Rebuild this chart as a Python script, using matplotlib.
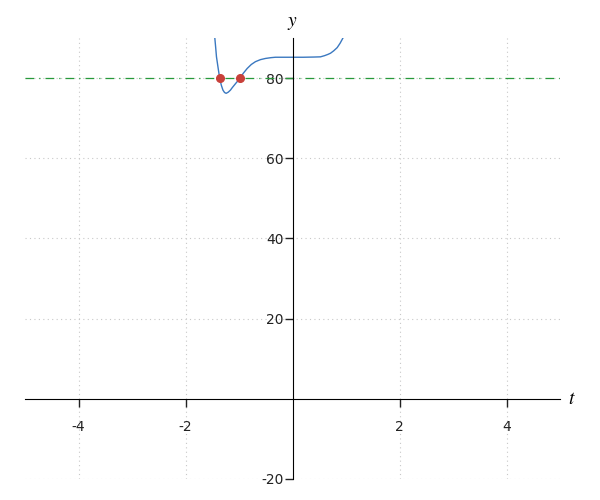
import matplotlib
matplotlib.use("Agg")
import matplotlib.pyplot as plt

plt.rcParams['axes.unicode_minus'] = False
plt.rcParams['mathtext.fontset'] = 'stix'

# curve
t_vals = [-1.452, -1.435, -1.421, -1.39, -1.359, -1.33, -1.30, -1.27, -1.24,
          -1.20, -1.16, -1.127, -1.06, -0.991, -0.92, -0.847, -0.77, -0.692,
          -0.6, -0.505, -0.4, -0.318, -0.2, 0.0, 0.2, 0.4, 0.523, 0.6, 0.66,
          0.71, 0.77, 0.835, 0.89, 0.947]
y_vals = [90.0, 87.5, 85.3, 82.5, 79.8, 78.2, 77.0, 76.4, 76.2,
          76.5, 77.0, 77.6, 78.7, 79.8, 81.2, 82.4, 83.4, 84.1,
          84.6, 84.9, 85.1, 85.2, 85.2, 85.2, 85.2, 85.25, 85.3, 85.6, 85.9,
          86.2, 86.8, 87.6, 88.7, 90.1]

level = 80
cross_t = [-1.36, -0.99]
cross_y = [80, 80]

xticks = [-4, -2, 2, 4]
yticks = [-20, 20, 40, 60, 80]

fig = plt.figure(figsize=(6, 5), dpi=100)
ax = fig.add_axes([25/600, 21/500, 535/600, 441/500])

ax.set_xlim(-5, 5)
ax.set_ylim(-20, 90)

for s in ['top', 'right']:
    ax.spines[s].set_visible(False)
ax.spines['left'].set_position(('data', 0))
ax.spines['bottom'].set_position(('data', 0))

ax.set_xticks(xticks)
ax.set_yticks(yticks)
ax.set_xticklabels([str(v) for v in xticks])
ax.set_yticklabels([str(v) for v in yticks])
ax.tick_params(axis='x', direction='out', length=5.5, width=1, pad=10, labelsize=10, colors='#222222')
ax.tick_params(axis='y', direction='out', length=5.5, width=1, pad=1, labelsize=10, colors='#222222')

ax.grid(True, linestyle=(0, (1, 3)), color='#c8c8c8', linewidth=0.8)
ax.set_axisbelow(True)

ax.axhline(level, color='#279a3a', linestyle=(0, (7, 4, 1, 4)), linewidth=0.9)
ax.plot(t_vals, y_vals, color='#3a78c0', linewidth=1.0)
ax.plot(cross_t, cross_y, 'o', color='#c8403a', markersize=5.5, zorder=5)

ax.text(0, 93.8, '$y$', fontsize=14, ha='center', va='center')
ax.text(5.23, 0, '$t$', fontsize=14, ha='center', va='center')

plt.savefig('out.png', dpi=100)
